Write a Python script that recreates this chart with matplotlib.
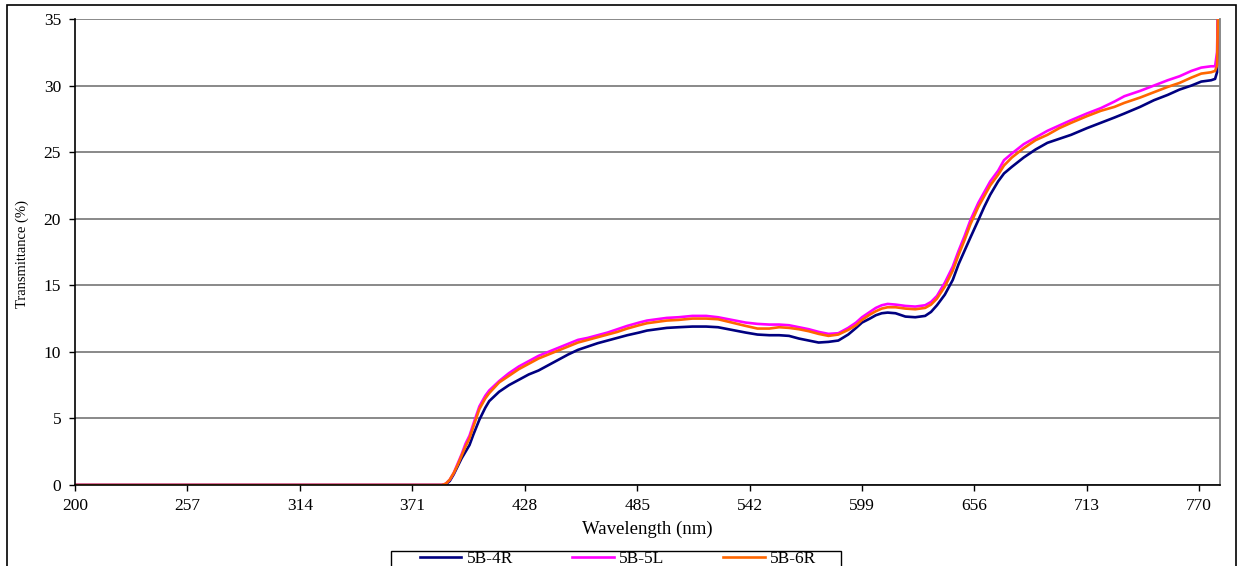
import matplotlib
matplotlib.use("Agg")
import matplotlib.pyplot as plt
from matplotlib.patches import Rectangle

wavelength = [200, 386, 388, 390, 392, 394, 396, 398, 400, 402, 405, 408, 410, 415, 420, 425, 430, 435,
              440, 445, 450, 455, 460, 465, 470, 475, 480, 486, 490, 495, 500, 506, 513, 520, 526, 533,
              540, 546, 552, 557, 562, 567, 572, 577, 582, 587, 592, 596, 599, 603, 606, 609, 612, 616,
              621, 626, 631, 634, 637, 641, 645, 648, 651, 654, 658, 661, 664, 668, 671, 675, 681, 687,
              693, 699, 705, 713, 720, 727, 732, 740, 747, 754, 760, 766, 771, 776, 778, 779, 780]

s_4R = [0, 0, 0.05, 0.3, 0.8, 1.4, 2.0, 2.5, 3.0, 3.8, 4.9, 5.8, 6.3, 7.0, 7.5, 7.9, 8.3, 8.6,
        9.0, 9.4, 9.8, 10.15, 10.4, 10.65, 10.85, 11.05, 11.25, 11.45, 11.6, 11.7, 11.8, 11.85, 11.9, 11.9, 11.85, 11.65,
        11.45, 11.3, 11.25, 11.25, 11.2, 11.0, 10.85, 10.7, 10.75, 10.85, 11.3, 11.8, 12.2, 12.5, 12.75, 12.9, 12.95, 12.9,
        12.65, 12.6, 12.7, 13.0, 13.5, 14.3, 15.4, 16.6, 17.6, 18.6, 19.9, 20.9, 21.8, 22.8, 23.4, 23.9, 24.6, 25.2,
        25.7, 26.0, 26.3, 26.8, 27.2, 27.6, 27.9, 28.4, 28.9, 29.3, 29.7, 30.0, 30.3, 30.4, 30.5, 31.0, 40]

s_5L = [0, 0, 0.1, 0.4, 0.9, 1.6, 2.3, 3.1, 3.7, 4.6, 5.9, 6.7, 7.1, 7.8, 8.4, 8.9, 9.3, 9.7,
        10.0, 10.3, 10.6, 10.9, 11.05, 11.25, 11.45, 11.7, 11.95, 12.2, 12.35, 12.45, 12.55, 12.6, 12.7, 12.7, 12.6, 12.4,
        12.2, 12.1, 12.05, 12.05, 12.0, 11.85, 11.7, 11.5, 11.35, 11.4, 11.8, 12.2, 12.6, 13.0, 13.3, 13.5, 13.6, 13.55,
        13.45, 13.4, 13.5, 13.75, 14.2, 15.2, 16.4, 17.6, 18.7, 19.9, 21.2, 22.0, 22.8, 23.6, 24.4, 24.9, 25.6, 26.1,
        26.6, 27.0, 27.4, 27.9, 28.3, 28.8, 29.2, 29.6, 30.0, 30.4, 30.7, 31.1, 31.35, 31.45, 31.45, 32.5, 40]

s_6R = [0, 0, 0.1, 0.4, 0.9, 1.5, 2.2, 2.9, 3.5, 4.4, 5.7, 6.5, 6.9, 7.7, 8.2, 8.7, 9.1, 9.5,
        9.8, 10.1, 10.4, 10.7, 10.9, 11.1, 11.3, 11.5, 11.75, 12.0, 12.15, 12.25, 12.35, 12.4, 12.5, 12.5, 12.45, 12.2,
        11.95, 11.75, 11.75, 11.85, 11.8, 11.7, 11.55, 11.35, 11.2, 11.3, 11.65, 12.0, 12.4, 12.8, 13.05, 13.25, 13.35, 13.35,
        13.25, 13.2, 13.3, 13.55, 14.0, 14.9, 16.1, 17.3, 18.4, 19.6, 20.9, 21.7, 22.5, 23.3, 24.0, 24.6, 25.3, 25.9,
        26.3, 26.8, 27.2, 27.7, 28.1, 28.4, 28.7, 29.1, 29.5, 29.9, 30.2, 30.6, 30.9, 31.0, 31.1, 31.5, 40]

series_names = ["5B-4R", "5B-5L", "5B-6R"]
series_colors = ["#000080", "#FF00FF", "#FF6600"]
x_ticks = [200, 257, 314, 371, 428, 485, 542, 599, 656, 713, 770]
y_ticks = [0, 5, 10, 15, 20, 25, 30, 35]

plt.rcParams['font.family'] = ['Liberation Serif', 'DejaVu Serif']

W, H = 1241, 566
fig = plt.figure(figsize=(W / 100, H / 100), dpi=100)
fig.patch.set_facecolor("white")

# outer chart border
fig.patches.append(Rectangle((7 / W, -0.05), (1236 - 7) / W, 1 - 5 / H + 0.05,
                             transform=fig.transFigure, fill=False, edgecolor="black",
                             linewidth=1.2, clip_on=False))
# legend box
fig.patches.append(Rectangle((391 / W, -0.05), (841 - 391) / W, 0.05 + (H - 551) / H,
                             transform=fig.transFigure, fill=False, edgecolor="black",
                             linewidth=1.0, clip_on=False))

left, right, top, bottom = 75 / W, 1220 / W, 1 - 19 / H, 1 - 485 / H
ax = fig.add_axes([left, bottom, right - left, top - bottom])

for vals, name, col in zip([s_4R, s_5L, s_6R], series_names, series_colors):
    ax.plot(wavelength, vals, color=col, linewidth=1.9, label=name, solid_joinstyle="round")

ax.set_xlim(200, 780.5)
ax.set_ylim(0, 35)
ax.set_xticks(x_ticks)
ax.set_yticks(y_ticks)
ax.tick_params(axis="both", labelsize=12.5, direction="out", length=4, width=1, color="black")
ax.tick_params(axis="x", pad=5)
ax.tick_params(axis="y", pad=6)
ax.grid(axis="y", color="#808080", linewidth=1.3)
ax.set_axisbelow(True)

ax.spines["top"].set_visible(False)
ax.spines["right"].set_color("#808080")
ax.spines["right"].set_linewidth(1.3)
ax.spines["left"].set_color("black")
ax.spines["bottom"].set_color("black")
ax.spines["left"].set_linewidth(1.2)
ax.spines["bottom"].set_linewidth(1.2)

ax.set_xlabel("Wavelength (nm)", fontsize=13.5, labelpad=5)
fig.text(22 / W, 1 - 254 / H, "Transmittance (%)", rotation=90, ha="center", va="center", fontsize=10.5)

leg = fig.legend(loc="upper left", bbox_to_anchor=(418 / W, 1 - 549 / H), ncol=3,
                 fontsize=12.5, frameon=False, handlelength=2.4,
                 columnspacing=3.4, borderpad=0.1, handletextpad=0.3, borderaxespad=0)

fig.savefig("out.png", dpi=100, facecolor="white")
